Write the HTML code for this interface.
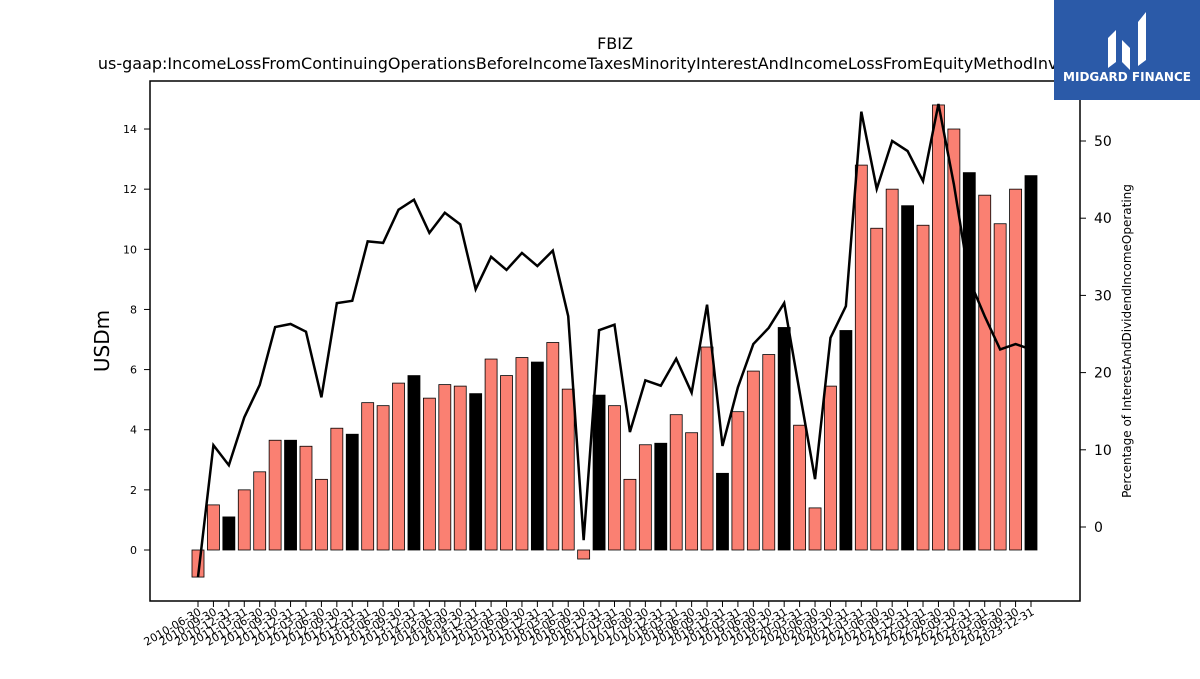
<!DOCTYPE html>
<html><head><meta charset="utf-8"><style>
body{margin:0;background:#fff;width:1200px;height:675px;overflow:hidden;font-family:"DejaVu Sans","Liberation Sans",sans-serif}
</style></head><body>
<svg id="chart" width="1200" height="675" xmlns="http://www.w3.org/2000/svg" font-family="DejaVu Sans, Liberation Sans, sans-serif">
<text x="615" y="49" text-anchor="middle" font-size="16">FBIZ</text>
<text x="615" y="69" text-anchor="middle" font-size="16">us-gaap:IncomeLossFromContinuingOperationsBeforeIncomeTaxesMinorityInterestAndIncomeLossFromEquityMethodInvestments</text>
<g id="plot"></g>
<rect x="150" y="81" width="930" height="520" fill="none" stroke="#000" stroke-width="1.5"/>
<text transform="translate(109,341) rotate(-90)" text-anchor="middle" font-size="20">USDm</text>
<text transform="translate(1131,341) rotate(-90)" text-anchor="middle" font-size="12">Percentage of InterestAndDividendIncomeOperating</text>
<g>
<rect x="1054" y="0" width="146" height="100" fill="#2b5aa8"/>
<path d="M1108 68 L1108 38 L1116 30 L1116 62 Z M1122 62 L1122 40 L1130 48 L1130 70 Z M1138 66 L1138 22 L1146 12 L1146 60 Z" fill="#fff"/>
<text x="1127" y="81" text-anchor="middle" font-size="12" font-weight="bold" fill="#fff">MIDGARD FINANCE</text>
</g>
</svg>
<script>
const categories=["2010-06-30","2010-09-30","2010-12-31","2011-03-31","2011-06-30","2011-09-30","2011-12-31","2012-03-31","2012-06-30","2012-09-30","2012-12-31","2013-03-31","2013-06-30","2013-09-30","2013-12-31","2014-03-31","2014-06-30","2014-09-30","2014-12-31","2015-03-31","2015-06-30","2015-09-30","2015-12-31","2016-03-31","2016-06-30","2016-09-30","2016-12-31","2017-03-31","2017-06-30","2017-09-30","2017-12-31","2018-03-31","2018-06-30","2018-09-30","2018-12-31","2019-03-31","2019-06-30","2019-09-30","2019-12-31","2020-03-31","2020-06-30","2020-09-30","2020-12-31","2021-03-31","2021-06-30","2021-09-30","2021-12-31","2022-03-31","2022-06-30","2022-09-30","2022-12-31","2023-03-31","2023-06-30","2023-09-30","2023-12-31"];
const barValues=[-0.9,1.5,1.1,2.0,2.6,3.65,3.65,3.45,2.35,4.05,3.85,4.9,4.8,5.55,5.8,5.05,5.5,5.45,5.2,6.35,5.8,6.4,6.25,6.9,5.35,-0.3,5.15,4.8,2.35,3.5,3.55,4.5,3.9,6.75,2.55,4.6,5.95,6.5,7.4,4.15,1.4,5.45,7.3,12.8,10.7,12.0,11.45,10.8,14.8,14.0,12.55,11.8,10.85,12.0,12.45];
const lineValues=[-6.5,10.6,8.0,14.2,18.4,25.9,26.3,25.3,16.8,29.0,29.3,37.0,36.8,41.1,42.4,38.1,40.7,39.2,30.8,35.0,33.3,35.5,33.8,35.8,27.3,-1.7,25.5,26.2,12.3,19.0,18.3,21.8,17.4,28.8,10.5,18.1,23.7,25.8,29.0,17.5,6.2,24.5,28.6,53.8,43.8,50.0,48.7,44.8,54.8,44.4,32.0,27.3,23.0,23.7,23.0];
const leftTicks=[0,2,4,6,8,10,12,14];
const rightTicks=[0,10,20,30,40,50];
const NS="http://www.w3.org/2000/svg";
const g=document.getElementById('plot');
const x=i=>198+i*(1031-198)/(categories.length-1);
const yL=v=>550-v*30.07;
const yR=v=>527-v*7.72;
function el(t,a){const e=document.createElementNS(NS,t);for(const k in a)e.setAttribute(k,a[k]);g.appendChild(e);return e;}
barValues.forEach((v,i)=>{
 const r=el('rect',{x:x(i)-6,y:Math.min(yL(v),yL(0)),width:12,height:Math.abs(yL(v)-yL(0)),fill:categories[i].endsWith('12-31')?'#000':'#fa8072',stroke:'#000','stroke-width':0.8});
 
 
 const t=el('line',{x1:x(i),x2:x(i),y1:601,y2:607,stroke:'#000'});
 
 
 const lb=el('text',{transform:`translate(${x(i)+4},${614}) rotate(-30)`,'text-anchor':'end','font-size':11});
 lb.textContent=categories[i];
 
 
});
const pl=el('polyline',{points:lineValues.map((v,i)=>x(i)+','+yR(v)).join(' '),fill:'none',stroke:'#000','stroke-width':2.5});


leftTicks.forEach(v=>{
 const t=el('line',{x1:144,x2:150,y1:yL(v),y2:yL(v),stroke:'#000'});
 
 
 const l=el('text',{x:137,y:yL(v)+4,'text-anchor':'end','font-size':11});
 l.textContent=v;
 
 
});
rightTicks.forEach(v=>{
 const t=el('line',{x1:1080,x2:1086,y1:yR(v),y2:yR(v),stroke:'#000'});
 
 
 const l=el('text',{x:1094,y:yR(v)+5,'font-size':14});
 l.textContent=v;
 
 
});
</script>
</body></html>
